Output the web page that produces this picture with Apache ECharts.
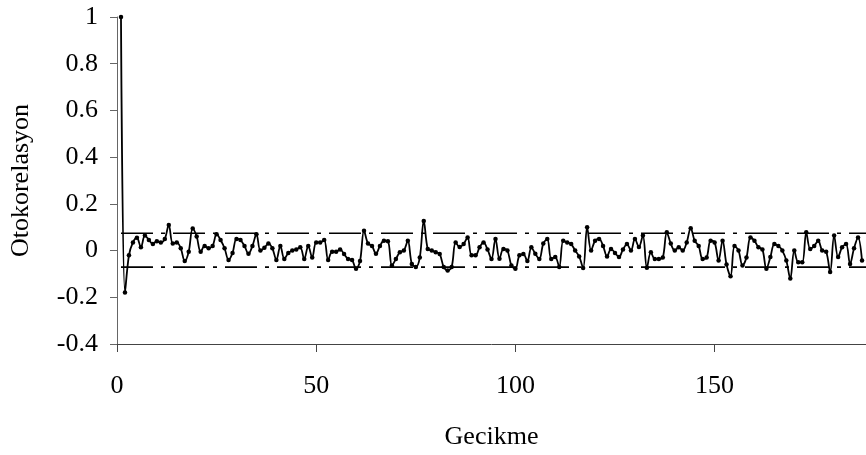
<!DOCTYPE html>
<html><head><meta charset="utf-8">
<script src="https://cdn.jsdelivr.net/npm/echarts@6/dist/echarts.min.js"></script>
<style>html,body{margin:0;padding:0;background:#fff}#c{width:866px;height:455px}</style>
</head><body><div id="c"></div>
<script>
// Autocorrelation values, lag 1..187
const acf = [
 1.0, -0.18, -0.02, 0.035, 0.055, 0.014, 0.065, 0.045, 0.028, 0.04,
 0.035, 0.05, 0.11, 0.03, 0.035, 0.01, -0.045, -0.005, 0.095, 0.06,
 -0.005, 0.02, 0.01, 0.02, 0.07, 0.045, 0.01, -0.04, -0.01, 0.05,
 0.045, 0.02, -0.014, 0.02, 0.07, 0.0, 0.012, 0.03, 0.01, -0.04,
 0.02, -0.036, -0.01, 0.0, 0.005, 0.014, -0.036, 0.02, -0.03, 0.035,
 0.035, 0.045, -0.04, -0.005, -0.005, 0.005, -0.015, -0.036, -0.04, -0.078,
 -0.045, 0.085, 0.03, 0.02, -0.014, 0.02, 0.042, 0.04, -0.064, -0.036,
 -0.007, 0.0, 0.042, -0.057, -0.07, -0.03, 0.127, 0.007, 0.0, -0.007,
 -0.015, -0.07, -0.085, -0.07, 0.035, 0.015, 0.028, 0.056, -0.02, -0.02,
 0.014, 0.035, 0.005, -0.036, 0.05, -0.035, 0.007, 0.0, -0.064, -0.078,
 -0.02, -0.015, -0.045, 0.014, -0.014, -0.036, 0.03, 0.05, -0.036, -0.028,
 -0.07, 0.042, 0.035, 0.028, 0.0, -0.025, -0.075, 0.1, 0.0, 0.042,
 0.05, 0.02, -0.025, 0.007, -0.01, -0.028, 0.005, 0.028, 0.0, 0.05,
 0.015, 0.064, -0.074, -0.007, -0.036, -0.036, -0.03, 0.078, 0.03, 0.0,
 0.014, 0.0, 0.035, 0.096, 0.042, 0.02, -0.036, -0.03, 0.042, 0.035,
 -0.043, 0.042, -0.06, -0.11, 0.02, 0.0, -0.064, -0.03, 0.056, 0.042,
 0.014, 0.005, -0.078, -0.028, 0.028, 0.02, 0.0, -0.043, -0.12, 0.0,
 -0.05, -0.05, 0.078, 0.007, 0.02, 0.042, 0.0, -0.005, -0.092, 0.064,
 -0.028, 0.014, 0.028, -0.057, 0.01, 0.056, -0.043
];
const lags = acf.map((_, i) => i + 1);
const upperBound = 0.074;
const lowerBound = -0.071;
const boundRange = [1, 188];
const yTicks = [-0.4, -0.2, 0, 0.2, 0.4, 0.6, 0.8, 1];

const font = 'Liberation Serif';
const fs = 26;
const chart = echarts.init(document.getElementById('c'));
chart.setOption({
  animation: false,
  backgroundColor: '#fff',
  grid: { left: 115, top: 17, width: 752, height: 331 },
  xAxis: {
    type: 'value', min: 0, max: 188, interval: 50,
    name: 'Gecikme', nameLocation: 'middle', nameGap: 80,
    nameTextStyle: { fontFamily: font, fontSize: fs, color: '#000' },
    axisLine: { onZero: false, lineStyle: { color: '#444', width: 1 } },
    axisTick: { show: true, length: 8, lineStyle: { color: '#444' } },
    axisLabel: { fontFamily: font, fontSize: fs, color: '#000', margin: 29, showMaxLabel: false },
    splitLine: { show: false }
  },
  yAxis: {
    type: 'value', min: yTicks[0], max: yTicks[yTicks.length - 1], interval: 0.2,
    name: 'Otokorelasyon', nameLocation: 'middle', nameGap: 83, nameRotate: 90,
    nameTextStyle: { fontFamily: font, fontSize: fs, color: '#000' },
    axisLine: { show: true, lineStyle: { color: '#666', width: 1 } },
    axisTick: { show: true, length: 7, lineStyle: { color: '#666' } },
    axisLabel: { fontFamily: font, fontSize: fs, color: '#000', margin: 19,
      formatter: v => String(Math.round(v * 10) / 10) },
    splitLine: { show: false }
  },
  series: [
    {
      type: 'line', data: lags.map((l, i) => [l, acf[i]]),
      smooth: 0.35, symbol: 'circle', symbolSize: 4.5,
      itemStyle: { color: '#000' }, lineStyle: { color: '#000', width: 1.8 },
      z: 3
    },
    {
      type: 'line', data: boundRange.map(x => [x, upperBound]), symbol: 'none',
      lineStyle: { color: '#000', width: 1.6, type: [32, 8, 4, 8] }, z: 2
    },
    {
      type: 'line', data: boundRange.map(x => [x, lowerBound]), symbol: 'none',
      lineStyle: { color: '#000', width: 1.6, type: [32, 8, 4, 8] }, z: 2
    }
  ]
});
</script></body></html>
